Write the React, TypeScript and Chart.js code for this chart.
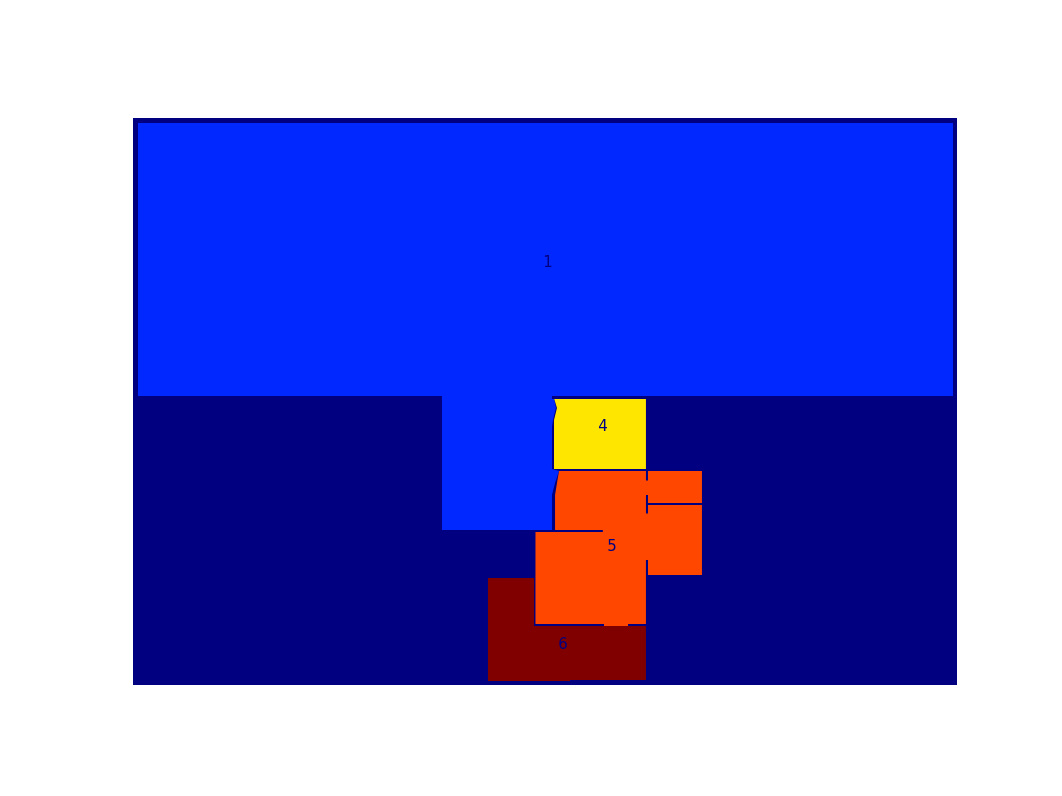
import React, { useEffect, useRef } from "react";
import { Chart, registerables } from "chart.js";

Chart.register(...registerables);

// Label image: 640 x 440 pixels, regions drawn with the jet colormap (labels 0..6)
const imageWidth = 640;
const imageHeight = 440;

const regionLabels = [0, 1, 4, 5, 6];
const regionColors = ["#000080", "#0028ff", "#ffe600", "#ff4700", "#800000"];

// Region outlines in image pixel units [x, y]
const region0: number[][] = [[0, 0], [640, 0], [640, 440], [0, 440]];
const region1: number[][] = [
  [3.9, 3.9], [636.9, 3.9], [636.9, 215.7], [325.4, 215.7], [325.4, 218.1],
  [327.2, 218.1], [328.5, 225.1], [326.2, 234.4], [325.4, 239.8], [325.4, 272.4],
  [330.9, 273.9], [327.8, 283.3], [325.4, 292.6], [325.4, 319.7], [240, 319.7],
  [240, 215.7], [3.9, 215.7],
];
const region4: number[][] = [
  [327.2, 218.1], [398.4, 218.1], [398.4, 272.4], [327.0, 272.4], [327.0, 234.4],
  [329.3, 225.1],
];
const region5: number[][] = [
  [330.9, 273.9], [441.9, 273.9], [441.9, 354.7], [400.0, 354.7], [400.0, 343.0],
  [398.4, 343.0], [398.4, 392.7], [384.5, 392.7], [384.5, 394.2], [365.8, 394.2],
  [365.8, 392.7], [312.6, 392.7], [312.6, 321.3], [327.8, 321.3], [327.8, 292.6],
  [329.3, 283.3],
];
const region6: number[][] = [
  [275.7, 357.0], [311.5, 357.0], [311.5, 394.2], [398.4, 394.2], [398.4, 436.1],
  [339.4, 436.1], [339.4, 436.9], [275.7, 436.9],
];

// Internal boundary lines (label 0)
const boundaryA: number[][] = [[325.4, 320.5], [364.9, 320.5]];
const boundaryB: number[][] = [[399.2, 273.0], [399.2, 281.4]];
const boundaryC: number[][] = [[399.2, 292.6], [399.2, 306.9]];
const boundaryD: number[][] = [[400.0, 299.5], [441.9, 299.5]];

// Region number labels
const labelText = ["1", "4", "5", "6"];
const labelX = [322.3, 365.0, 372.0, 334.0];
const labelY = [112.5, 239.8, 333.0, 409.0];

const regions = [region0, region1, region4, region5, region6];
const boundaries = [boundaryA, boundaryB, boundaryC, boundaryD];

const toPoints = (pts: number[][], close: boolean) => {
  const out = pts.map(([x, y]) => ({ x, y }));
  if (close) out.push({ x: pts[0][0], y: pts[0][1] });
  return out;
};

const labelPlugin = {
  id: "regionLabels",
  afterDatasetsDraw(chart: any) {
    const { ctx, scales } = chart;
    ctx.save();
    ctx.fillStyle = "#000080";
    ctx.font = "15px 'DejaVu Sans'";
    ctx.textAlign = "center";
    ctx.textBaseline = "middle";
    labelText.forEach((t, i) => {
      ctx.fillText(t, scales.x.getPixelForValue(labelX[i]), scales.y.getPixelForValue(labelY[i]));
    });
    ctx.restore();
  },
};

export default function App() {
  const ref = useRef<HTMLCanvasElement | null>(null);
  useEffect(() => {
    if (!ref.current) return;
    const datasets: any[] = [];
    let order = 100;
    regions.forEach((r, i) => {
      datasets.push({
        label: "label " + regionLabels[i],
        data: toPoints(r, true),
        order: order--,
        showLine: true,
        fill: "shape",
        backgroundColor: regionColors[i],
        borderColor: regionColors[i],
        borderWidth: 0,
        pointRadius: 0,
        tension: 0,
      });
    });
    boundaries.forEach((b, i) => {
      datasets.push({
        label: "boundary " + i,
        data: toPoints(b, false),
        order: order--,
        showLine: true,
        fill: false,
        borderColor: regionColors[0],
        borderWidth: 2,
        pointRadius: 0,
        tension: 0,
      });
    });
    const chart = new Chart(ref.current, {
      type: "scatter",
      data: { datasets },
      options: {
        animation: false,
        responsive: false,
        layout: { padding: { left: 133, right: 105, top: 118, bottom: 111 } },
        scales: {
          x: { type: "linear", min: 0, max: imageWidth, display: false },
          y: { type: "linear", min: 0, max: imageHeight, reverse: true, display: false },
        },
        plugins: { legend: { display: false }, tooltip: { enabled: false } },
      },
      plugins: [labelPlugin],
    });
    return () => chart.destroy();
  }, []);
  return (
    <div style={{ position: "fixed", left: 0, top: 0, width: 1062, height: 796, background: "#ffffff" }}>
      <canvas ref={ref} width={1062} height={796} style={{ display: "block" }} />
    </div>
  );
}
